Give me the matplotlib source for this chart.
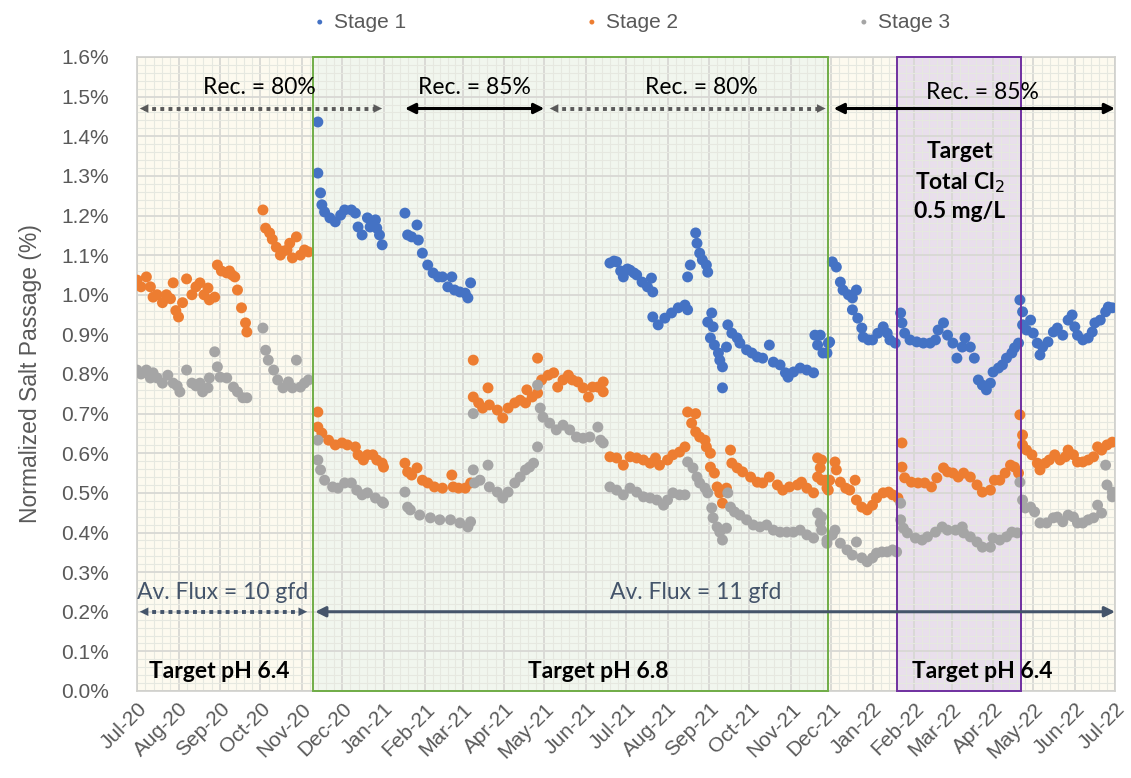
import numpy as np
import matplotlib
matplotlib.use("Agg")
import matplotlib.pyplot as plt
import matplotlib.dates as mdates
from matplotlib.ticker import MultipleLocator, FuncFormatter, FixedLocator
from matplotlib.patches import Rectangle
from matplotlib import font_manager

# ---------------- data (days since 2020-07-01, normalized salt passage %) ----------------
start_date = "2020-07-01"

s1_days = [135, 135, 137, 138, 140, 144, 148, 152, 155, 160, 163, 165, 168, 172, 174, 178, 179, 181, 183,
           200, 202, 205, 209, 210, 213, 217, 221, 225, 228, 232, 235, 237, 241, 245, 247, 249,
           353, 356, 358, 361, 363, 366, 368, 371, 373, 377, 381, 384, 385,
           385, 389, 394, 399, 404, 409, 411,
           411, 413, 417, 418, 420, 422, 425, 426,
           426, 429, 430, 428, 431, 434, 435, 437, 437, 440, 441, 444, 448, 450, 455, 459, 463, 467,
           472, 475, 480, 484, 486, 490, 495, 500, 505, 506, 510, 508, 512, 516, 515, 517,
           519, 522, 525, 527, 531, 534, 537, 534, 538, 541, 542, 546, 549, 553, 557, 560, 562, 566,
           570, 571, 573, 577, 582, 587, 592, 596, 598, 602, 605, 609, 612, 616, 618, 622, 625, 628,
           631, 634, 637, 639, 643, 646, 649, 653, 655, 658, 659, 661, 661, 664, 667, 669, 672, 674,
           676, 680, 684, 687, 691, 695, 698, 700, 702, 706, 710, 713, 715, 719, 723, 725, 728]
s1_vals = [1.436, 1.307, 1.257, 1.227, 1.209, 1.194, 1.184, 1.201, 1.214, 1.214, 1.206, 1.171, 1.151, 1.194, 1.171, 1.189, 1.168, 1.151, 1.126,
           1.206, 1.151, 1.146, 1.176, 1.138, 1.105, 1.075, 1.055, 1.045, 1.045, 1.020, 1.045, 1.012, 1.007, 1.004, 0.992, 1.030,
           1.080, 1.085, 1.083, 1.060, 1.045, 1.065, 1.062, 1.055, 1.050, 1.032, 1.020, 1.042, 1.007,
           0.944, 0.924, 0.941, 0.954, 0.967, 0.974, 0.962,
           1.045, 1.075, 1.156, 1.130, 1.105, 1.088, 1.075, 1.057,
           0.931, 0.954, 0.919, 0.891, 0.873, 0.853, 0.835, 0.818, 0.765, 0.868, 0.924, 0.903, 0.891, 0.878, 0.861, 0.853, 0.843, 0.840,
           0.873, 0.830, 0.823, 0.803, 0.792, 0.805, 0.815, 0.810, 0.803, 0.898, 0.898, 0.873, 0.853, 0.878, 0.853, 0.881,
           1.083, 1.070, 1.032, 1.012, 1.000, 0.992, 1.012, 0.962, 0.941, 0.916, 0.893, 0.886, 0.886, 0.903, 0.919, 0.903, 0.886, 0.878,
           0.954, 0.929, 0.903, 0.886, 0.881, 0.878, 0.878, 0.886, 0.911, 0.929, 0.898, 0.878, 0.840, 0.868, 0.891, 0.868, 0.840, 0.785,
           0.772, 0.760, 0.777, 0.805, 0.815, 0.823, 0.840, 0.853, 0.866, 0.878, 0.987, 0.957, 0.924, 0.911, 0.936, 0.903, 0.878, 0.848,
           0.868, 0.881, 0.906, 0.916, 0.898, 0.936, 0.949, 0.919, 0.898, 0.886, 0.891, 0.906, 0.929, 0.936, 0.957, 0.969, 0.967]

s2_days = [0, 3, 7, 10, 12, 15, 19, 22, 25, 27, 29, 31, 34, 37, 41, 44, 47, 50, 53, 54, 58,
           60, 63, 67, 69, 71, 73, 75, 78, 81, 82,
           94, 96, 99, 101, 104, 107, 109, 112, 114, 116, 119, 122, 125, 128,
           135, 135, 138, 143, 148, 153, 157, 163, 165, 169, 172, 176, 179, 183, 184,
           200, 202, 209, 205, 213, 217, 222, 228, 235, 236, 240, 245, 249,
           251, 251, 255, 258, 262, 263, 269, 273, 277, 282, 286, 290, 291, 295, 299, 299, 302, 307, 311, 314,
           318, 322, 325, 329, 333, 337, 340, 344, 348, 348,
           353, 358, 363, 368, 373, 378, 383, 387, 390, 396, 400, 405, 409, 411, 417, 414, 417, 420, 424, 425,
           428, 428, 431, 433, 435, 437, 440, 443, 444, 448, 452, 458, 463, 467, 472, 478, 482, 487, 493, 496,
           500, 505, 508, 510, 508, 514, 516,
           511, 511, 515, 517, 521, 522, 525, 529, 532, 536, 537, 541, 545, 549, 552, 557, 561, 564, 568,
           571, 571, 573, 578, 583, 588, 593, 597, 602, 605, 609, 613,
           617, 622, 627, 631, 637, 640, 644, 648, 652, 655, 658, 659, 661, 661, 664, 668, 672, 674, 678, 681,
           685, 689, 693, 695, 699, 702, 706, 710, 714, 717, 720, 724, 728]
s2_vals = [1.037, 1.020, 1.045, 1.020, 0.994, 1.000, 0.980, 1.000, 0.990, 1.030, 0.960, 0.944, 0.980, 1.040, 1.000, 1.020, 1.030, 1.000, 1.017, 0.987, 0.994,
           1.075, 1.060, 1.055, 1.060, 1.050, 1.045, 1.012, 0.967, 0.929, 0.906,
           1.214, 1.168, 1.156, 1.140, 1.120, 1.100, 1.110, 1.113, 1.130, 1.093, 1.146, 1.100, 1.113, 1.108,
           0.704, 0.666, 0.651, 0.633, 0.621, 0.626, 0.621, 0.616, 0.596, 0.583, 0.596, 0.596, 0.583, 0.575, 0.565,
           0.575, 0.553, 0.563, 0.545, 0.532, 0.525, 0.515, 0.512, 0.545, 0.515, 0.512, 0.512, 0.525,
           0.835, 0.742, 0.727, 0.714, 0.765, 0.722, 0.709, 0.689, 0.714, 0.727, 0.734, 0.727, 0.760, 0.742, 0.752, 0.840, 0.785, 0.797, 0.803, 0.767,
           0.785, 0.797, 0.785, 0.780, 0.765, 0.742, 0.767, 0.767, 0.780, 0.755,
           0.591, 0.588, 0.570, 0.591, 0.588, 0.583, 0.575, 0.588, 0.570, 0.583, 0.596, 0.603, 0.616, 0.704, 0.700, 0.676, 0.654, 0.641, 0.633, 0.616,
           0.600, 0.565, 0.550, 0.515, 0.500, 0.474, 0.512, 0.608, 0.575, 0.563, 0.553, 0.540, 0.527, 0.525, 0.540, 0.520, 0.507, 0.515, 0.520, 0.527,
           0.512, 0.500, 0.588, 0.563, 0.540, 0.532, 0.507,
           0.583, 0.532, 0.512, 0.532, 0.578, 0.558, 0.527, 0.512, 0.507, 0.532, 0.482, 0.464, 0.457, 0.469, 0.487, 0.500, 0.502, 0.495, 0.487,
           0.626, 0.565, 0.538, 0.527, 0.525, 0.525, 0.515, 0.538, 0.563, 0.553, 0.550, 0.540,
           0.550, 0.540, 0.520, 0.502, 0.507, 0.532, 0.532, 0.550, 0.570, 0.565, 0.550, 0.697, 0.646, 0.621, 0.608, 0.596, 0.575, 0.558, 0.575, 0.583,
           0.596, 0.583, 0.591, 0.608, 0.596, 0.578, 0.578, 0.583, 0.591, 0.616, 0.608, 0.621, 0.628]

s3_days = [0, 3, 7, 10, 12, 15, 19, 23, 27, 30, 32, 37, 41, 44, 47, 49, 53, 54, 58, 60, 62, 67, 72, 75, 79, 82,
           94, 96, 98, 102, 105, 109, 113, 116, 119, 122, 125, 128,
           135, 135, 137, 140, 146, 150, 155, 160, 164, 168, 172, 178, 183, 184,
           200, 202, 204, 211, 219, 226, 234, 241, 247, 249,
           251, 251, 252, 256, 262, 263, 269, 273, 277, 282, 286, 290, 293, 296, 299, 299, 301, 303, 308, 313,
           318, 323, 328, 333, 338, 344, 346, 348,
           353, 358, 363, 368, 373, 378, 383, 388, 393, 396, 400, 405, 409, 411, 415, 418, 420, 424, 426, 429,
           430, 433, 435, 437, 440, 441, 443, 446, 450, 455, 460, 465, 470, 475, 480, 485, 490, 495, 500, 505,
           508, 510, 511, 515,
           511, 515, 519, 521, 525, 530, 534, 537, 541, 545, 549, 552, 556, 560, 564, 567,
           570, 570, 572, 575, 581, 586, 590, 596, 601, 605, 611, 616,
           617, 622, 627, 631, 637, 639, 644, 649, 653, 657, 659, 661, 663, 667, 670, 674, 679, 684, 687, 691,
           695, 699, 702, 706, 710, 714, 717, 720, 723, 724, 728, 728]
s3_vals = [0.810, 0.800, 0.810, 0.790, 0.803, 0.790, 0.777, 0.797, 0.777, 0.770, 0.755, 0.810, 0.777, 0.770, 0.777, 0.755, 0.765, 0.790, 0.856, 0.818, 0.792, 0.790, 0.767, 0.755, 0.740, 0.740,
           0.916, 0.860, 0.835, 0.810, 0.785, 0.765, 0.780, 0.765, 0.835, 0.767, 0.777, 0.785,
           0.633, 0.583, 0.558, 0.532, 0.515, 0.512, 0.525, 0.525, 0.507, 0.495, 0.500, 0.487, 0.477, 0.474,
           0.502, 0.464, 0.457, 0.444, 0.437, 0.432, 0.432, 0.424, 0.414, 0.427,
           0.700, 0.558, 0.525, 0.532, 0.570, 0.515, 0.502, 0.487, 0.502, 0.525, 0.540, 0.558, 0.565, 0.575, 0.616, 0.772, 0.714, 0.691, 0.676, 0.659,
           0.671, 0.659, 0.641, 0.638, 0.641, 0.666, 0.633, 0.626,
           0.515, 0.507, 0.495, 0.512, 0.502, 0.490, 0.487, 0.482, 0.469, 0.482, 0.500, 0.495, 0.495, 0.578, 0.563, 0.540, 0.525, 0.512, 0.500, 0.462,
           0.437, 0.414, 0.401, 0.381, 0.411, 0.500, 0.464, 0.452, 0.444, 0.432, 0.419, 0.414, 0.419, 0.406, 0.401, 0.401, 0.401, 0.406, 0.394, 0.386,
           0.449, 0.424, 0.406, 0.381,
           0.439, 0.373, 0.394, 0.406, 0.373, 0.356, 0.343, 0.376, 0.336, 0.326, 0.336, 0.348, 0.351, 0.351, 0.356, 0.351,
           0.474, 0.432, 0.411, 0.399, 0.386, 0.381, 0.389, 0.401, 0.414, 0.406, 0.406, 0.414,
           0.399, 0.389, 0.376, 0.363, 0.363, 0.386, 0.381, 0.389, 0.401, 0.399, 0.527, 0.482, 0.462, 0.464, 0.452, 0.424, 0.424, 0.437, 0.439, 0.427,
           0.444, 0.439, 0.424, 0.424, 0.432, 0.437, 0.469, 0.449, 0.570, 0.520, 0.502, 0.490]

series_names = ["Stage 1", "Stage 2", "Stage 3"]
series_colors = ["#4472C4", "#ED7D31", "#A5A5A5"]

# periods (annotation spans)
pH68_span = ("2020-11-09", "2021-11-29")
cl2_span = ("2022-01-19", "2022-04-22")

# fonts
installed = {f.name for f in font_manager.fontManager.ttflist}
narrow = "Liberation Sans Narrow" if "Liberation Sans Narrow" in installed else "Liberation Sans"
tickfont = "Liberation Sans"
afont = "Lato"

# ---------------- figure ----------------
fig = plt.figure(figsize=(11.31, 7.78), dpi=100)
ax = fig.add_axes([137 / 1131, 1 - 691 / 778, (1115 - 137) / 1131, (691 - 57) / 778])

base = np.datetime64(start_date)
def to_dates(days):
    return base + np.array(days, dtype="timedelta64[D]")

def d(s):
    return mdates.date2num(np.datetime64(s))

xmin, xmax = d("2020-07-01"), d("2022-07-01")

# background regions
ax.set_facecolor("#FDFAEF")
g0, g1 = [d(s) for s in pH68_span]
p0, p1 = [d(s) for s in cl2_span]
ax.axvspan(g0, g1, facecolor="#F1F6EE", edgecolor="none", zorder=0.2)
ax.axvspan(p0, p1, facecolor="#E9DFEC", edgecolor="none", zorder=0.2)

# grid: months major, 5 minor per month; 0.1% major, 0.02% minor
months = [d(f"{2020 + (6 + i) // 12}-{(6 + i) % 12 + 1:02d}-01") for i in range(25)]
minor_x = []
for a, b in zip(months[:-1], months[1:]):
    minor_x += list(np.linspace(a, b, 6)[1:-1])
ax.xaxis.set_major_locator(FixedLocator(months))
ax.xaxis.set_minor_locator(FixedLocator(minor_x))
ax.xaxis.set_major_formatter(mdates.DateFormatter("%b-%y"))
ax.yaxis.set_major_locator(MultipleLocator(0.1))
ax.yaxis.set_minor_locator(MultipleLocator(0.02))
ax.yaxis.set_major_formatter(FuncFormatter(lambda v, p: f"{v:.1f}%"))
ax.set_axisbelow(True)
ax.grid(True, which="major", color="#D8D8D4", linewidth=1.3, zorder=0.5)
ax.grid(True, which="minor", color="#E6E8E0", linewidth=0.8, zorder=0.4)

ax.set_xlim(xmin, xmax)
ax.set_ylim(0, 1.6)

# data
for days, vals, name, col in [(s1_days, s1_vals, series_names[0], series_colors[0]),
                              (s2_days, s2_vals, series_names[1], series_colors[1]),
                              (s3_days, s3_vals, series_names[2], series_colors[2])]:
    ax.scatter(to_dates(days), vals, s=62, color=col, edgecolors="none", label=name, zorder=3)

# region borders
ax.add_patch(Rectangle((g0, 0), g1 - g0, 1.6, fill=False, edgecolor="#70AD47", linewidth=1.4, zorder=4, clip_on=False))
ax.add_patch(Rectangle((p0, 0), p1 - p0, 1.6, fill=False, edgecolor="#7030A0", linewidth=1.4, zorder=4, clip_on=False))

# axes styling
for s in ax.spines.values():
    s.set_color("#D0D0CC")
    s.set_linewidth(1.2)
ax.tick_params(axis="both", which="both", length=0, colors="#595959")
ax.tick_params(axis="y", labelsize=15, pad=20)
ax.tick_params(axis="x", labelsize=15, pad=6)
for lab in ax.get_xticklabels():
    lab.set_rotation(45)
    lab.set_ha("right")
    lab.set_rotation_mode("anchor")
    lab.set_fontfamily(tickfont)
for lab in ax.get_yticklabels():
    lab.set_fontfamily(tickfont)
ax.set_ylabel("Normalized Salt Passage (%)", fontsize=16.5, color="#595959", family=tickfont, labelpad=14)

# annotations
def darrow(x0, x1, y, color, dotted):
    if dotted:
        ax.plot([x0 + 5, x1 - 5], [y, y], color=color, linestyle=(0, (1, 1.1)), linewidth=2.8, zorder=5)
        for xs, xe in [(x0 + 8, x0), (x1 - 8, x1)]:
            ax.annotate("", xy=(xe, y), xytext=(xs, y),
                        arrowprops=dict(arrowstyle="-|>,head_length=0.6,head_width=0.3", color=color, lw=0.1), zorder=5)
    else:
        ax.annotate("", xy=(x1, y), xytext=(x0, y),
                    arrowprops=dict(arrowstyle="<|-|>,head_length=0.6,head_width=0.3", color=color, lw=2.2,
                                    shrinkA=0, shrinkB=0), zorder=5)

yr = 1.47
darrow(d("2020-07-01"), d("2021-01-02"), yr, "#595959", True)
darrow(d("2021-01-17"), d("2021-05-01"), yr, "black", False)
darrow(d("2021-05-03"), d("2021-11-29"), yr, "#595959", True)
darrow(d("2021-12-03"), d("2022-07-01"), yr, "black", False)
fs = 16.5
ty = 1.497
ax.text(d("2020-09-30"), ty, "Rec. = 80%", ha="center", va="bottom", fontsize=fs, family=afont, zorder=6)
ax.text(d("2021-03-10"), ty, "Rec. = 85%", ha="center", va="bottom", fontsize=fs, family=afont, zorder=6)
ax.text(d("2021-08-26"), ty, "Rec. = 80%", ha="center", va="bottom", fontsize=fs, family=afont, zorder=6)
ax.text(d("2022-03-24"), ty - 0.012, "Rec. = 85%", ha="center", va="bottom", fontsize=fs, family=afont, zorder=6)

ax.text(d("2022-03-07"), 1.285, "Target\nTotal Cl$_2$\n0.5 mg/L", ha="center", va="center", fontsize=fs,
        fontweight="bold", family=afont, linespacing=1.4, zorder=6)

slate = "#44546A"
darrow(d("2020-07-01"), d("2020-11-07"), 0.2, slate, True)
darrow(d("2020-11-11"), d("2022-07-01"), 0.2, slate, False)
ax.text(d("2020-07-01"), 0.222, "Av. Flux = 10 gfd", ha="left", va="bottom", fontsize=fs, family=afont, color=slate, zorder=6)
ax.text(d("2021-08-22"), 0.222, "Av. Flux = 11 gfd", ha="center", va="bottom", fontsize=fs, family=afont, color=slate, zorder=6)

ax.text(d("2020-07-10"), 0.048, "Target pH 6.4", ha="left", va="center", fontsize=fs, fontweight="bold", family=afont, zorder=6)
ax.text(d("2021-06-10"), 0.048, "Target pH 6.8", ha="center", va="center", fontsize=fs, fontweight="bold", family=afont, zorder=6)
ax.text(d("2022-03-24"), 0.048, "Target pH 6.4", ha="center", va="center", fontsize=fs, fontweight="bold", family=afont, zorder=6)

# legend
leg = fig.legend(loc="upper center", bbox_to_anchor=(0.557, 1.008), ncol=3, frameon=False,
                 markerscale=0.45, handlelength=1.0, handletextpad=0.2, columnspacing=8.4,
                 prop={"family": narrow, "size": 15})
for t in leg.get_texts():
    t.set_color("#595959")

fig.savefig("out.png", dpi=100)
